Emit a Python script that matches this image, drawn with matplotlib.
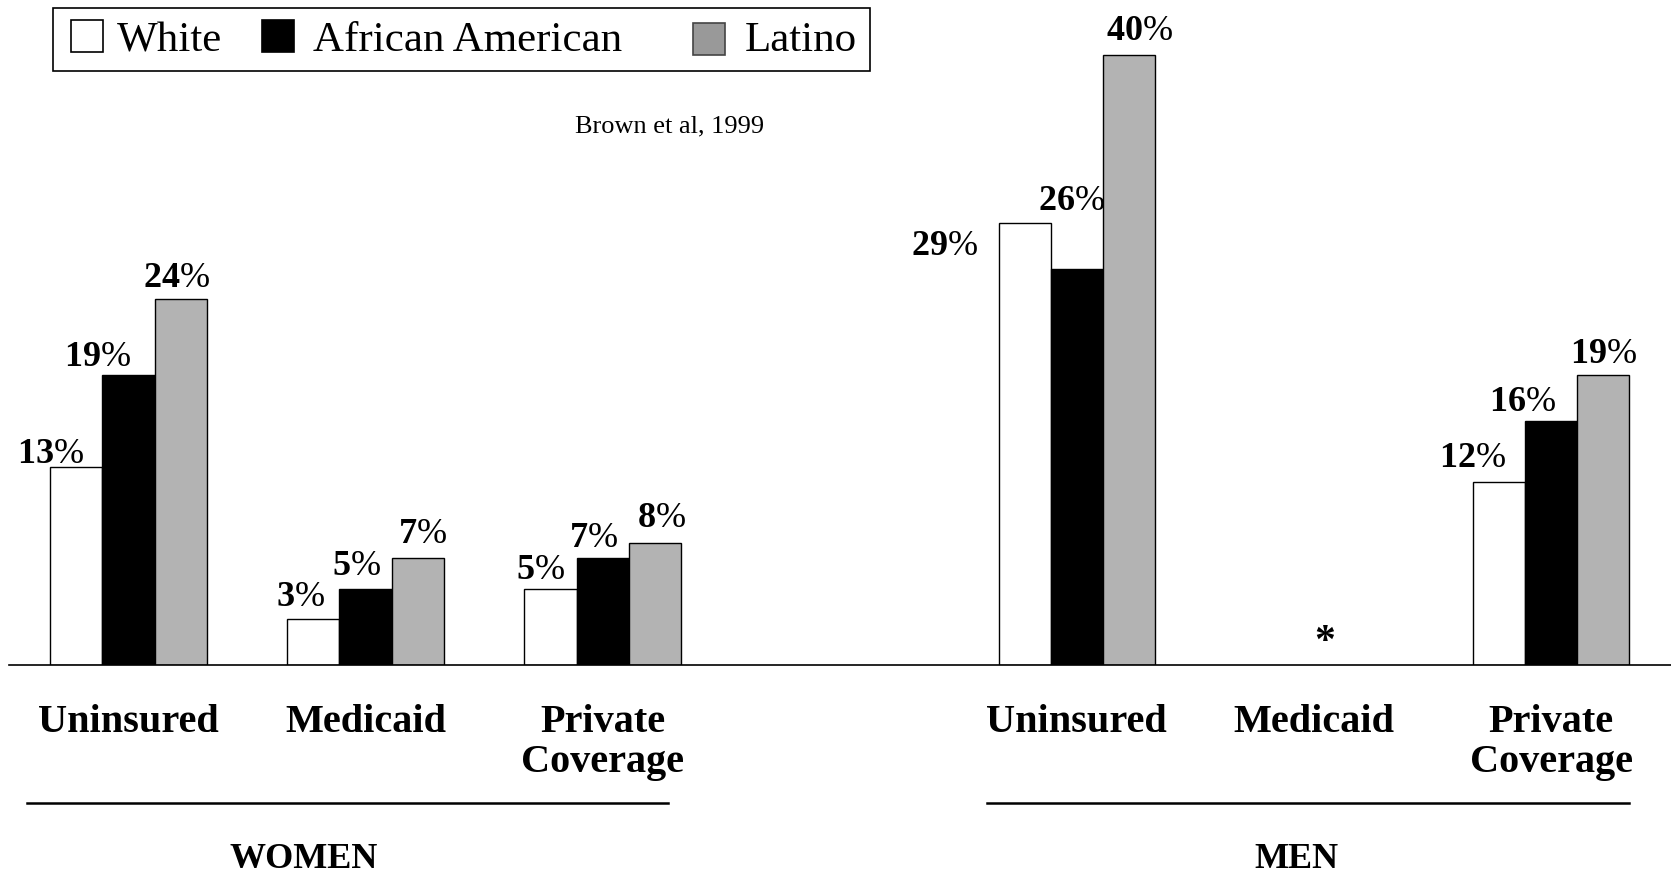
import numpy as np
import matplotlib
matplotlib.use("Agg")
import matplotlib.pyplot as plt
from matplotlib.patches import Rectangle
from matplotlib.lines import Line2D

# Daten (Prozent), Reihenfolge: Frauen Uninsured/Medicaid/Private, Maenner dito
categories = ["Uninsured", "Medicaid", "Private\nCoverage"]
groups = ["WOMEN", "MEN"]
series = ["White", "African American", "Latino"]
white = [13, 3, 5, 29, np.nan, 12]
black = [19, 5, 7, 26, np.nan, 16]
latino = [24, 7, 8, 40, np.nan, 19]
source = "Brown et al, 1999"

# Label-Verschiebungen (Pixel) relativ zur Balkenmitte / Balkenoberkante
white_dx = [-26, -13, -10, -80, 0, -26]
white_dy = [4, 13, 10, -32, 0, 15]
black_dx = [-31, -9, -9, -5, 0, -29]
black_dy = [9, 14, 11, 59, 0, 10]
latino_dx = [-4, 5, 7, 10, 0, 0]
latino_dy = [12, 15, 16, 15, 0, 12]

W, H = 1671, 874
plt.rcParams["font.family"] = ["Liberation Serif", "DejaVu Serif"]
plt.rcParams["mathtext.fontset"] = "custom"
plt.rcParams["mathtext.rm"] = "Liberation Serif"
plt.rcParams["mathtext.bf"] = "Liberation Serif:bold"

fig = plt.figure(figsize=(W / 100, H / 100), dpi=100)
ax = fig.add_axes([8.5 / W, 209 / H, 1 - 8.5 / W, 665 / H])

x = np.r_[np.arange(3), np.arange(3) + 4].astype(float)
bw = 0.22
colors = ["white", "black", "#b3b3b3"]
values = [white, black, latino]
dxs = [white_dx, black_dx, latino_dx]
dys = [white_dy, black_dy, latino_dy]
px = 0.72  # Pixel -> Punkte

for i, (vals, col) in enumerate(zip(values, colors)):
    pos = x + (i - 1) * bw
    ax.bar(pos, vals, width=bw, color=col, edgecolor="black", linewidth=1.0)
    for p, v, dx, dy in zip(pos, vals, dxs[i], dys[i]):
        if np.isnan(v):
            continue
        ax.annotate(rf"$\mathbf{{{int(v)}}}$%", xy=(p, v),
                    xytext=(dx * px, dy * px), textcoords="offset points",
                    ha="center", va="baseline", fontsize=26)

# fehlender Wert Maenner Medicaid
ax.annotate("*", xy=(5, 0), xytext=(11 * px, 12 * px), textcoords="offset points",
            ha="center", va="baseline", fontsize=30, fontweight="bold")

ax.set_xlim(-0.506, 6.506)
ax.set_ylim(0, 43.63)
ax.set_xticks(x)
ax.set_xticklabels(categories * 2, fontsize=29, fontweight="bold", linespacing=1.1)
ax.tick_params(axis="x", length=0, pad=28)
ax.set_yticks([])
for s in ["top", "left", "right"]:
    ax.spines[s].set_visible(False)
ax.spines["bottom"].set_linewidth(1.2)
ax.patch.set_alpha(0)


def fx(v):
    return v / W


def fy(v):
    return 1 - v / H


# Gruppen-Klammern und Beschriftungen
for (x0, x1), name, cx in zip([(27, 668), (987, 1629)], groups, [304, 1296]):
    fig.add_artist(Line2D([fx(x0), fx(x1)], [fy(803), fy(803)], color="black", lw=1.8))
    fig.text(fx(cx), fy(868), name, ha="center", va="baseline",
             fontsize=26, fontweight="bold")

fig.text(fx(670), fy(132), source, ha="center", va="baseline", fontsize=19)

# Legende
fig.add_artist(Rectangle((fx(53), fy(71)), fx(870 - 53), (71 - 8) / H,
                         facecolor="white", edgecolor="black", lw=1.2))
patches = [(71, 20, "white", "black"), (262, 20, "black", "black"), (693, 23, "#999999", "#444444")]
text_x = [117, 313, 745]
for (px0, py0, fc, ec), tx, name in zip(patches, text_x, series):
    fig.add_artist(Rectangle((fx(px0), fy(py0 + 32)), fx(32), 32 / H,
                             facecolor=fc, edgecolor=ec, lw=1.2))
    fig.text(fx(tx), fy(51), name, ha="left", va="baseline", fontsize=31)

fig.savefig("out.png", dpi=100)
